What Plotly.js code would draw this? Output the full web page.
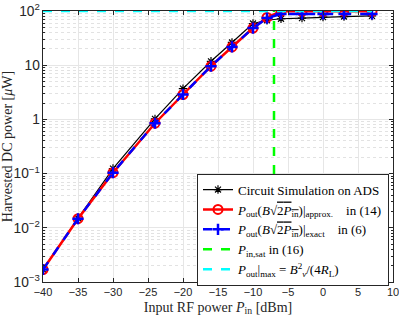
<!DOCTYPE html>
<html><head><meta charset="utf-8">
<script src="https://cdn.plot.ly/plotly-3.0.1.min.js"></script>
<style>html,body{margin:0;padding:0;background:#fff}#chart{width:399px;height:317px}</style>
</head><body><div id="chart"></div>
<script>
const pin = [-40,-35,-30,-24,-20,-16,-13,-10,-8,-6,-3,0,3,7];
const adsPower = [0.0017,0.0150,0.124,1.02,3.7,11.8,26.3,58.8,67.5,72,74,77,79,81];
const approxPower = [0.0017,0.0147,0.104,0.85,2.88,9.6,21.7,48.4,76,99,99,99,99,99];
const exactPower = [0.0017,0.0147,0.104,0.85,2.88,9.6,21.7,48.4,74,88,88,88,88,88];
const pinSatX = [-7,-7];
const pinSatY = [0.001,100];
const poutMaxX = [-40,7];
const poutMaxY = [100,100];
const legendNames = [
  "Circuit Simulation on ADS",
  "<i>P</i><sub>out</sub>(<i>B</i>√<span style='text-decoration:overline'>2<i>P</i><sub>in</sub></span>)|<sub>approx.</sub>    in (14)",
  "<i>P</i><sub>out</sub>(<i>B</i>√<span style='text-decoration:overline'>2<i>P</i><sub>in</sub></span>)|<sub>exact</sub>    in (6)",
  "<i>P</i><sub>in,sat</sub> in (16)",
  "<i>P</i><sub>out</sub>|<sub>max</sub> = <i>B</i><sup>2</sup><sub><i>v</i></sub>/(4<i>R</i><sub>L</sub>)"
];
const traces = [
  {x: pin, y: adsPower, name: legendNames[0], mode: 'lines+markers',
   line: {color: '#000', width: 1.2},
   marker: {symbol: 'asterisk-open', size: 7, color: '#000', line: {color: '#000', width: 1.2}}},
  {x: pin, y: approxPower, name: legendNames[1], mode: 'lines+markers',
   line: {color: '#ff0000', width: 2.5},
   marker: {symbol: 'circle-open', size: 9, color: '#ff0000', line: {color: '#ff0000', width: 2}}},
  {x: pin, y: exactPower, name: legendNames[2], mode: 'lines+markers',
   line: {color: '#0000ff', width: 2.5, dash: 'dash'},
   marker: {symbol: 'cross-thin-open', size: 8, color: '#0000ff', line: {color: '#0000ff', width: 2.5}}},
  {x: pinSatX, y: pinSatY, name: legendNames[3], mode: 'lines',
   line: {color: '#00ff00', width: 2.5, dash: 'dash'}},
  {x: poutMaxX, y: poutMaxY, name: legendNames[4], mode: 'lines',
   line: {color: '#00ffff', width: 2.5, dash: 'dash'}}
];
const axisCommon = {
  showline: true, linecolor: '#262626', linewidth: 1, mirror: 'allticks',
  ticks: 'inside', ticklen: 4, tickcolor: '#262626',
  gridcolor: '#e6e6e6', zeroline: false, ticklabeloverflow: 'allow',
  tickfont: {family: 'Liberation Sans, Arial, sans-serif', size: 11, color: '#262626'}
};
const layout = {
  width: 399, height: 317,
  margin: {l: 43, r: 6, t: 11, b: 35},
  paper_bgcolor: '#fff', plot_bgcolor: '#fff',
  showlegend: true,
  xaxis: Object.assign({}, axisCommon, {
    range: [-40, 10], tick0: -40, dtick: 5,
    title: {text: 'Input RF power <i>P</i><sub>in</sub> [dBm]', standoff: 4,
            font: {family: 'Liberation Serif, serif', size: 14, color: '#262626'}}
  }),
  yaxis: Object.assign({}, axisCommon, {
    type: 'log', range: [-3, 2], dtick: 1, exponentformat: 'power',
    minor: {ticks: 'inside', ticklen: 2, tickcolor: '#262626', dtick: 'D1',
            showgrid: true, griddash: 'dot', gridcolor: '#e2e2e2'},
    title: {text: 'Harvested DC power [<i>μ</i>W]', standoff: 2,
            font: {family: 'Liberation Serif, serif', size: 14, color: '#262626'}}
  }),
  legend: {x: 0.44, y: 0.40, xanchor: 'left', yanchor: 'top',
           bgcolor: '#fff', bordercolor: '#262626', borderwidth: 1,
           font: {family: 'Liberation Serif, serif', size: 13, color: '#000'},
           tracegroupgap: 0, itemwidth: 30}
};
Plotly.newPlot('chart', traces, layout, {staticPlot: true, displayModeBar: false});
</script></body></html>
